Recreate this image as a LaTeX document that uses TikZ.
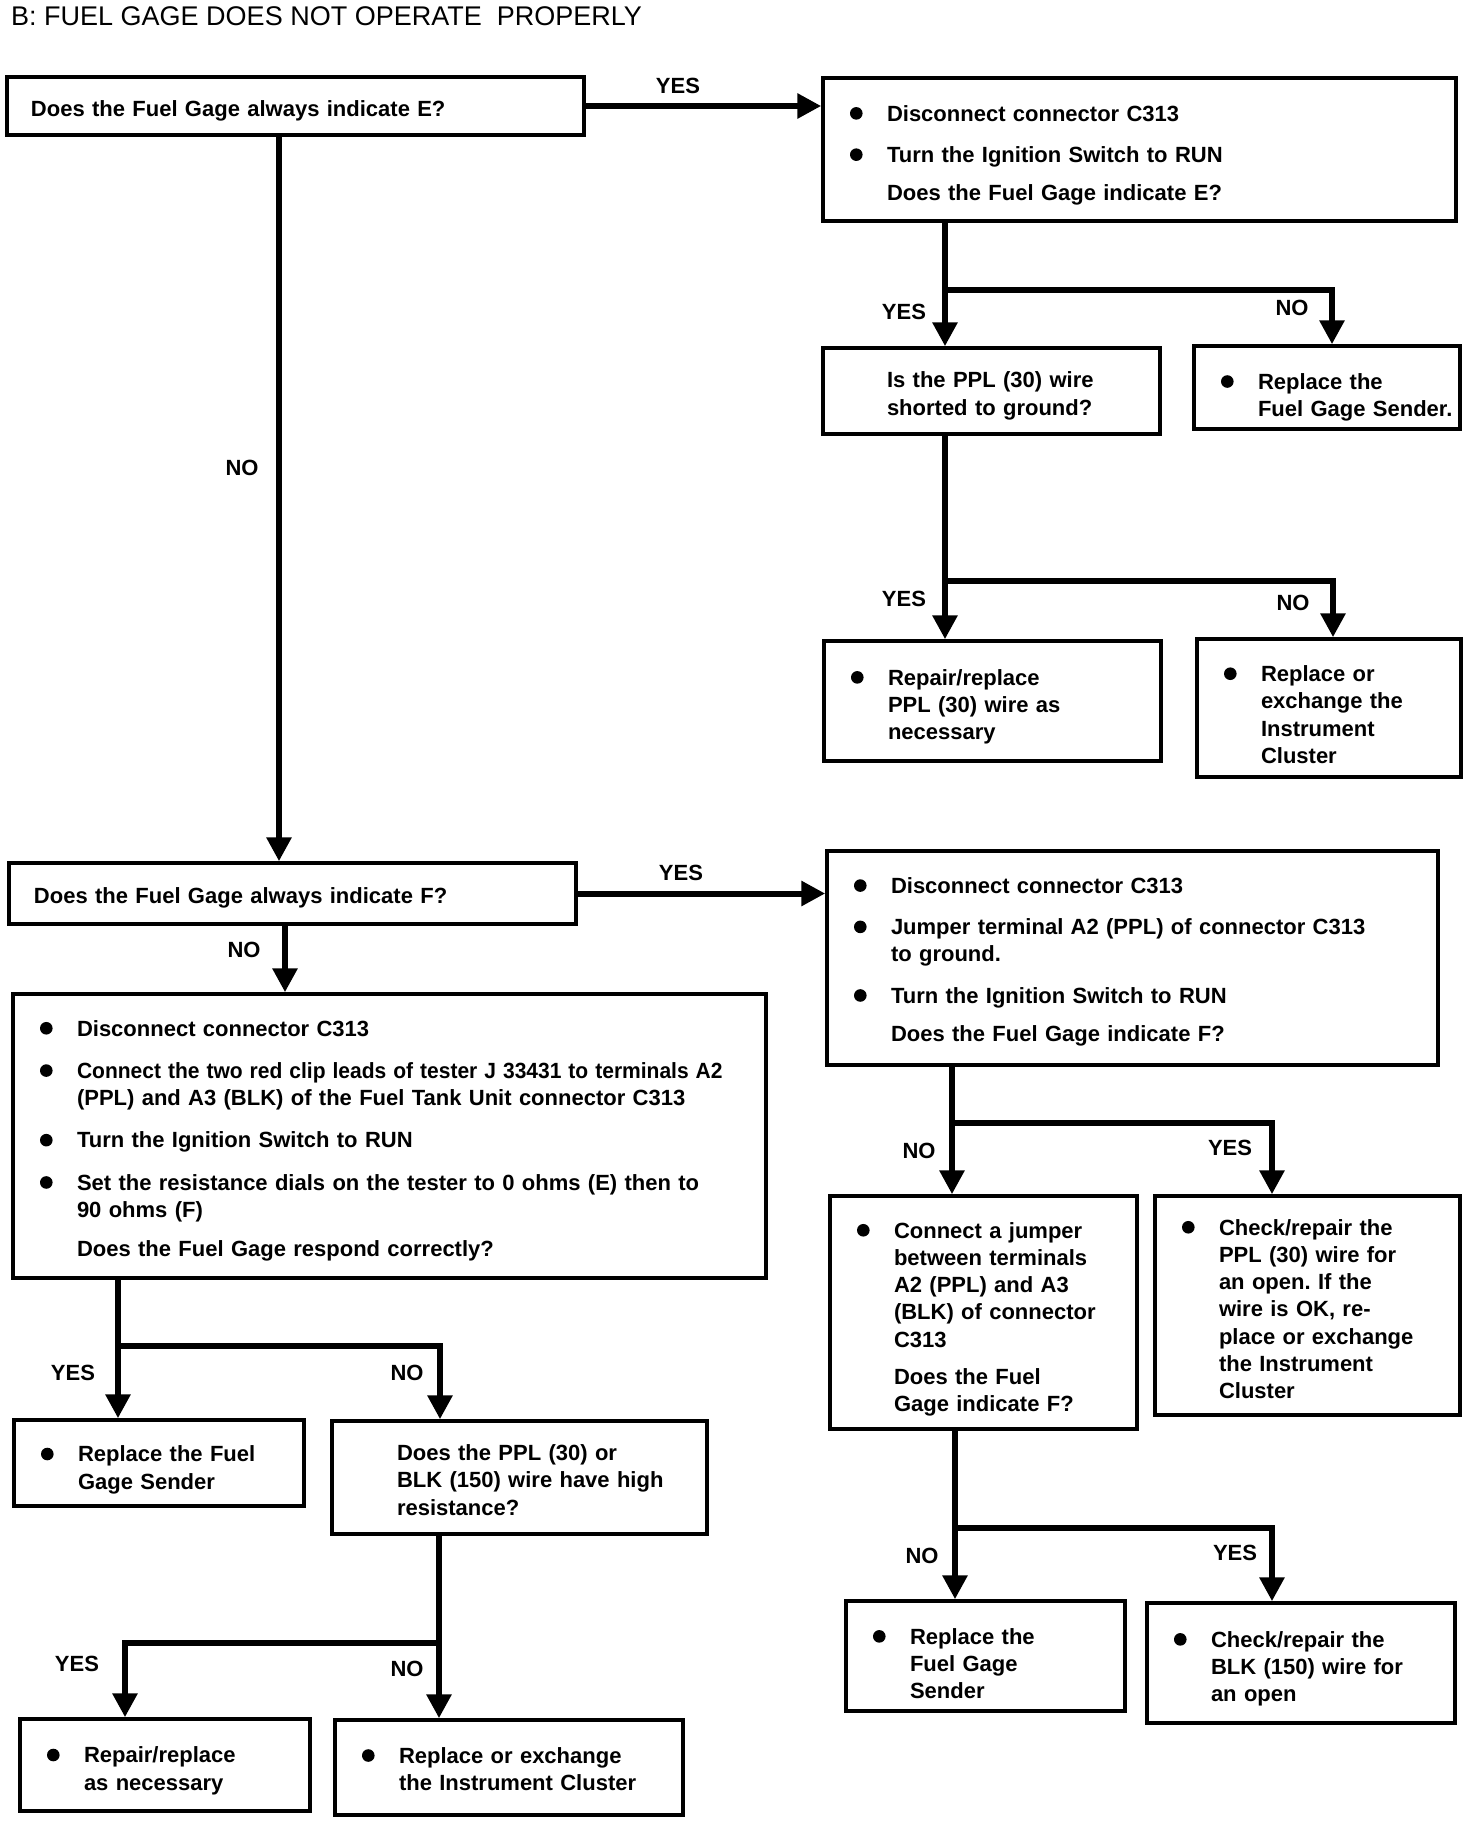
\documentclass[tikz,border=0pt]{standalone}
\usepackage{fontspec}
\usepackage{graphicx}
\setmainfont{Liberation Sans}
\usetikzlibrary{arrows.meta}
\newcommand{\flowtext}{\fontsize{22}{27.3}\selectfont\bfseries\frenchspacing}
\newcommand{\titletext}{\fontsize{27}{32}\selectfont}
\newcommand{\bulletdot}{\tikz[baseline=0pt]\fill (0pt,7.8pt) circle (6.3pt);}
\newcommand{\steprows}[2][7pt]{\hspace*{27pt}\raisebox{-#1}[\height][\depth]{\begin{tabular}{@{}p{37pt}@{}l@{}}#2\end{tabular}}}
\newcommand{\plainrows}[2]{\hspace*{#1}\raisebox{-5pt}[\height][\depth]{\begin{tabular}{@{}l@{}}#2\end{tabular}}}

\begin{document}
\begin{tikzpicture}[x=1pt,y=-1pt,
  box/.style={draw=black,line width=3.5pt,fill=white,inner xsep=0pt,inner ysep=0pt,align=left,font=\flowtext},
  answer/.style={font=\flowtext,inner sep=0pt},
  flow/.style={line width=6pt},
  arrow/.style={flow,-{Triangle[width=24pt,length=24pt]}}]
\fill[white] (0,0) rectangle (1472,1824);
\useasboundingbox (0,0) rectangle (1472,1824);

\node[anchor=base west,font=\titletext,inner sep=0pt] (title) at (11,25) {B: FUEL GAGE DOES NOT OPERATE\ \ PROPERLY};

\node[box,text width=577pt,minimum height=58pt] (q1) at (295.5,106) {\plainrows{24pt}{Does the Fuel Gage always indicate E?}};
\node[box,text width=633pt,minimum height=143pt] (a1) at (1139.5,149.5) {\steprows[6pt]{\bulletdot & Disconnect connector C313\\[14pt] \bulletdot & Turn the Ignition Switch to RUN\\[11pt] & Does the Fuel Gage indicate E?}};
\node[box,text width=337pt,minimum height=86pt] (q2) at (991.5,391) {\plainrows{64pt}{Is the PPL (30) wire\\ shorted to ground?}};
\node[box,text width=266pt,minimum height=83pt] (a2) at (1327,387.5) {\steprows[10pt]{\bulletdot & Replace the\\ & Fuel Gage Sender.}};
\node[box,text width=337pt,minimum height=120pt] (a3) at (992.5,701) {\steprows[6pt]{\bulletdot & Repair/replace\\ & PPL (30) wire as\\ & necessary}};
\node[box,text width=264pt,minimum height=138pt] (a4) at (1329,708) {\steprows[9pt]{\bulletdot & Replace or\\ & exchange the\\ & Instrument\\ & Cluster}};

\node[box,text width=567pt,minimum height=61pt] (q3) at (292.5,893.5) {\plainrows{25pt}{Does the Fuel Gage always indicate F?}};
\node[box,text width=611pt,minimum height=214pt] (a5) at (1132.5,958) {\steprows[4pt]{\bulletdot & Disconnect connector C313\\[14pt] \bulletdot & Jumper terminal A2 (PPL) of connector C313\\ & to ground.\\[14pt] \bulletdot & Turn the Ignition Switch to RUN\\[11pt] & Does the Fuel Gage indicate F?}};
\node[box,text width=753pt,minimum height=284pt] (a10) at (389.5,1136) {\steprows[5pt]{\bulletdot & Disconnect connector C313\\[15pt] \bulletdot & \scalebox{0.955}[1]{Connect the two red clip leads of tester J 33431 to terminals A2}\\ & (PPL) and A3 (BLK) of the Fuel Tank Unit connector C313\\[15pt] \bulletdot & Turn the Ignition Switch to RUN\\[15pt] \bulletdot & Set the resistance dials on the tester to 0 ohms (E) then to\\ & 90 ohms (F)\\[12pt] & Does the Fuel Gage respond correctly?}};
\node[box,text width=307pt,minimum height=233pt] (a6) at (983.5,1312.5) {\steprows{\bulletdot & Connect a jumper\\ & between terminals\\ & A2 (PPL) and A3\\ & (BLK) of connector\\ & C313\\[10pt] & Does the Fuel\\ & Gage indicate F?}};
\node[box,text width=305pt,minimum height=219pt] (a7) at (1307.5,1305.5) {\steprows[6pt]{\bulletdot & Check/repair the\\ & PPL (30) wire for\\ & an open. If the\\ & wire is OK, re-\\ & place or exchange\\ & the Instrument\\ & Cluster}};
\node[box,text width=279pt,minimum height=110pt] (a8) at (985.5,1656) {\steprows[10pt]{\bulletdot & Replace the\\ & Fuel Gage\\ & Sender}};
\node[box,text width=308pt,minimum height=120pt] (a9) at (1301,1663) {\steprows[6pt]{\bulletdot & Check/repair the\\ & BLK (150) wire for\\ & an open}};
\node[box,text width=290pt,minimum height=86pt] (a11) at (159,1463) {\steprows{\bulletdot & Replace the Fuel\\ & Gage Sender}};
\node[box,text width=375pt,minimum height=113pt] (q4) at (519.5,1477.5) {\plainrows{65pt}{Does the PPL (30) or\\ BLK (150) wire have high\\ resistance?}};
\node[box,text width=290pt,minimum height=92pt] (a12) at (165,1765) {\steprows[6pt]{\bulletdot & Repair/replace\\ & as necessary}};
\node[box,text width=348pt,minimum height=95pt] (a13) at (509,1767.5) {\steprows[4pt]{\bulletdot & Replace or exchange\\ & the Instrument Cluster}};

\coordinate (j0) at (279,500);
\coordinate (j1) at (945,290);
\coordinate (k1) at (1332,290);
\coordinate (j2) at (945,581);
\coordinate (k2) at (1333,581);
\coordinate (j7) at (285,950);
\coordinate (j3) at (952,1123);
\coordinate (k3) at (1272,1123);
\coordinate (j4) at (955,1528);
\coordinate (k4) at (1272,1528);
\coordinate (j5) at (118,1346);
\coordinate (k5) at (440,1346);
\coordinate (j6) at (439,1643);
\coordinate (k6) at (125,1643);

\draw[arrow] (q1.east) -- (q1.east -| a1.west);
\draw[arrow] (j1 |- a1.south) -- (j1 |- q2.north);
\draw[arrow] (j1) -- (k1) -- (k1 |- a2.north);
\draw[arrow] (j2 |- q2.south) -- (j2 |- a3.north);
\draw[arrow] (j2) -- (k2) -- (k2 |- a4.north);
\draw[arrow] (j0 |- q1.south) -- (j0 |- q3.north);
\draw[arrow] (q3.east) -- (q3.east -| a5.west);
\draw[arrow] (j7 |- q3.south) -- (j7 |- a10.north);
\draw[arrow] (j3 |- a5.south) -- (j3 |- a6.north);
\draw[arrow] (j3) -- (k3) -- (k3 |- a7.north);
\draw[arrow] (j4 |- a6.south) -- (j4 |- a8.north);
\draw[arrow] (j4) -- (k4) -- (k4 |- a9.north);
\draw[arrow] (j5 |- a10.south) -- (j5 |- a11.north);
\draw[arrow] (j5) -- (k5) -- (k5 |- q4.north);
\draw[arrow] (j6 |- q4.south) -- (j6 |- a13.north);
\draw[arrow] (j6) -- (k6) -- (k6 |- a12.north);

\node[answer] (yes1) at (678,86) {YES};
\node[answer] (yes2) at (904,312) {YES};
\node[answer] (no2) at (1292,308) {NO};
\node[answer] (yes3) at (904,599) {YES};
\node[answer] (no3) at (1293,603) {NO};
\node[answer] (no1) at (242,468) {NO};
\node[answer] (yes4) at (681,873) {YES};
\node[answer] (no4) at (919,1151) {NO};
\node[answer] (yes5) at (1230,1148) {YES};
\node[answer] (no5) at (922,1556) {NO};
\node[answer] (yes6) at (1235,1553) {YES};
\node[answer] (no6) at (244,950) {NO};
\node[answer] (yes7) at (73,1373) {YES};
\node[answer] (no7) at (407,1373) {NO};
\node[answer] (yes8) at (77,1664) {YES};
\node[answer] (no8) at (407,1669) {NO};
\end{tikzpicture}
\end{document}
